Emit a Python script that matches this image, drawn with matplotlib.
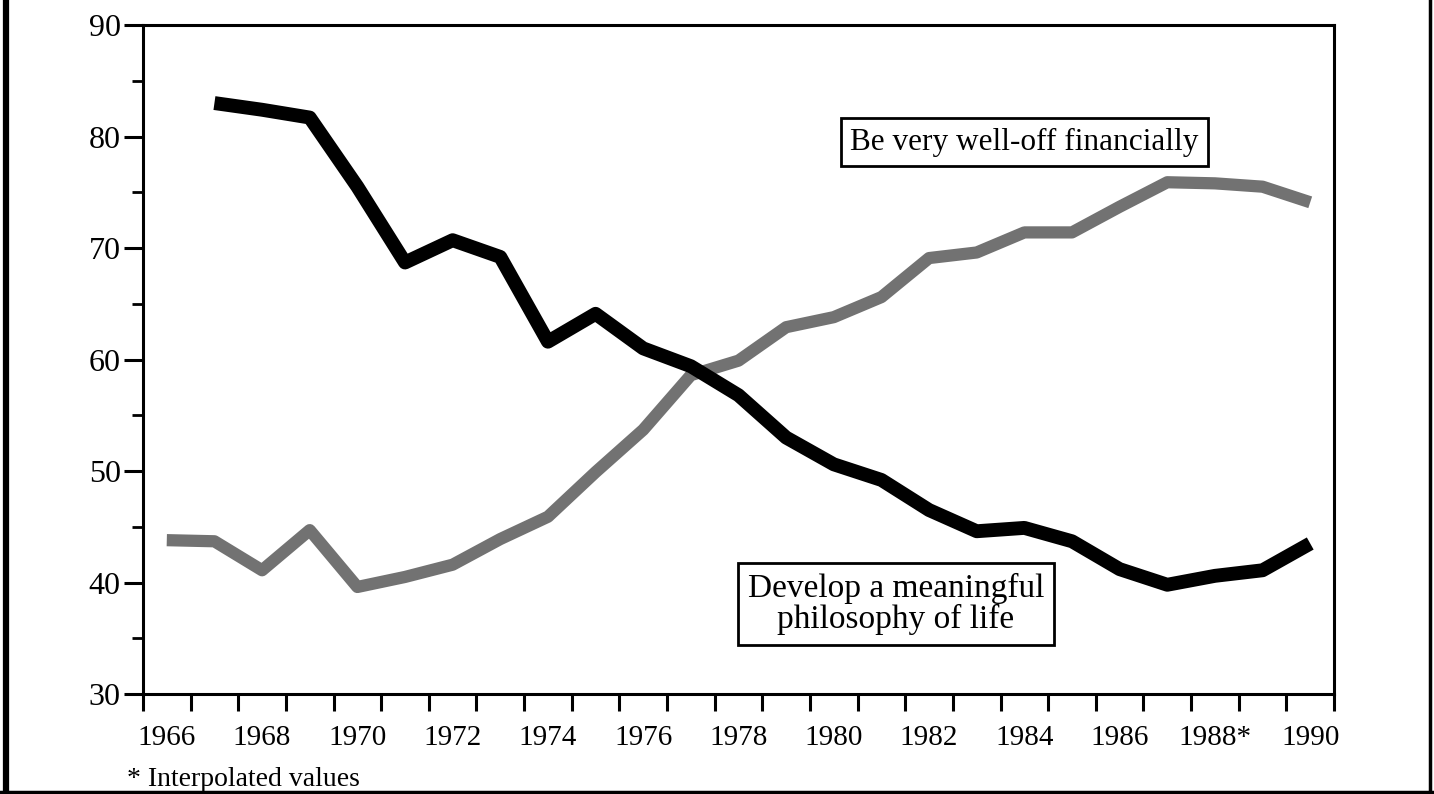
import matplotlib.pyplot as plt
from matplotlib.ticker import FixedLocator, NullFormatter
from matplotlib.lines import Line2D

# values (percent of freshmen)
years = list(range(1966, 1991))
years_philosophy = list(range(1967, 1991))
philosophy = [83.0, 82.4, 81.7, 75.5, 68.7, 70.7, 69.2, 61.6, 64.1, 61.0, 59.4, 56.8,
              53.0, 50.6, 49.2, 46.5, 44.6, 44.9, 43.7, 41.2, 39.8, 40.6, 41.1, 43.5]
financial = [43.8, 43.7, 41.1, 44.7, 39.6, 40.5, 41.6, 43.9, 45.9, 49.9, 53.7, 58.6,
             59.9, 62.9, 63.8, 65.6, 69.1, 69.6, 71.4, 71.4, 73.7, 75.9, 75.8, 75.5, 74.1]
year_labels = ['1966', '1968', '1970', '1972', '1974', '1976', '1978', '1980',
               '1982', '1984', '1986', '1988*', '1990']
label_financial = 'Be very well-off financially'
label_philosophy = 'Develop a meaningful\nphilosophy of life'
footnote = '* Interpolated values'

serif = ['Liberation Serif', 'DejaVu Serif']
plt.rcParams['font.family'] = serif

fig = plt.figure(figsize=(14.34, 7.94), dpi=100)
ax = fig.add_axes([0.0997, 0.1259, 0.8306, 0.8426])

ax.plot(years, financial, color='#727272', lw=8.8, solid_capstyle='butt',
        solid_joinstyle='round')
ax.plot(years_philosophy, philosophy, color='black', lw=10, solid_capstyle='butt',
        solid_joinstyle='round')

ax.set_xlim(1965.5, 1990.5)
ax.set_ylim(30, 90)

# year ticks sit on the boundaries, labels in the middle of each year
ax.xaxis.set_major_locator(FixedLocator([y + 0.5 for y in range(1965, 1991)]))
ax.xaxis.set_major_formatter(NullFormatter())
ax.xaxis.set_minor_locator(FixedLocator([int(l[:4]) for l in year_labels]))
ax.set_xticklabels(year_labels, minor=True)
ax.tick_params(axis='x', which='major', direction='out', length=12, width=2.2)
ax.tick_params(axis='x', which='minor', length=0, pad=22, labelsize=21)

ax.set_yticks([30, 40, 50, 60, 70, 80, 90])
ax.yaxis.set_minor_locator(FixedLocator([35, 45, 55, 65, 75, 85]))
ax.tick_params(axis='y', which='major', direction='out', length=14, width=2.2,
               labelsize=23, pad=2)
ax.tick_params(axis='y', which='minor', direction='out', length=8, width=2)

for s in ax.spines.values():
    s.set_linewidth(2.2)

ax.text(1984.0, 79.5, label_financial, fontsize=22.5, ha='center', va='center',
        bbox=dict(boxstyle='square,pad=0.3', fc='white', ec='black', lw=2), zorder=5)
ax.text(1981.3, 38.1, label_philosophy, fontsize=24, ha='center', va='center',
        linespacing=1.0, bbox=dict(boxstyle='square,pad=0.3', fc='white', ec='black', lw=2),
        zorder=5)

fig.text(127 / 1434, 1 - 779 / 794, footnote, fontsize=20, ha='left', va='center')

# frame around the whole figure (left, right and bottom edges)
fig.add_artist(Line2D([6 / 1434, 6 / 1434], [0, 1], color='black', lw=4.5))
fig.add_artist(Line2D([1430 / 1434, 1430 / 1434], [0, 1], color='black', lw=2.5))
fig.add_artist(Line2D([0, 1], [2.5 / 794, 2.5 / 794], color='black', lw=2.5))

fig.savefig('out.png', dpi=100)
